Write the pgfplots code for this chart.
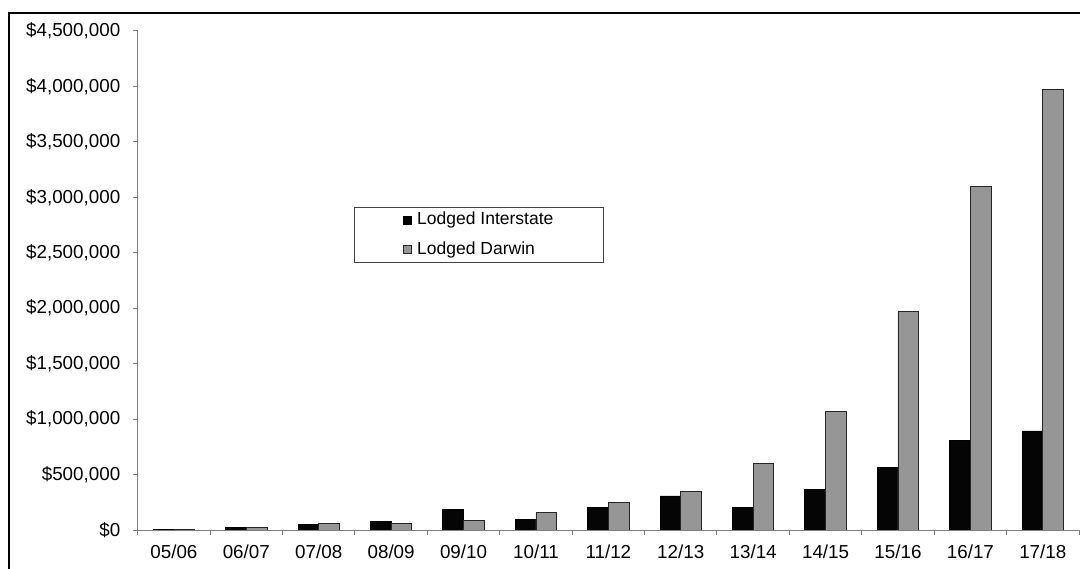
\documentclass[border=0pt]{standalone}
\usepackage{pgfplots}
\pgfplotsset{compat=1.18}
\usepackage{fontspec}
\setmainfont{Liberation Sans}
\definecolor{barblack}{HTML}{050505}
\definecolor{bargray}{HTML}{969696}
\definecolor{axisgray}{HTML}{808080}
\begin{document}
\fontsize{18.8bp}{22bp}\selectfont
\begin{tikzpicture}
\path[use as bounding box] (0bp,0bp) rectangle (1080bp,569bp);
\draw[line width=2.2bp, black] (9bp,0bp) -- (9bp,556bp) -- (1080bp,556bp);
\begin{axis}[
  at={(137.7bp,39bp)}, anchor=south west,
  width=941.3bp, height=499bp, scale only axis,
  font=\fontsize{18.8bp}{22bp}\selectfont,
  axis x line=bottom, axis y line=left,
  axis line style={-, axisgray, line width=1bp},
  xmin=0.5, xmax=13.5,
  ymin=0, ymax=4500000,
  ybar=0pt, bar width=20.7bp,
  xtick={1,...,13},
  xticklabels={05/06,06/07,07/08,08/09,09/10,10/11,11/12,12/13,13/14,14/15,15/16,16/17,17/18},
  xticklabel style={yshift=-3bp},
  yticklabel style={xshift=-6bp},
  major x tick style={draw=none},
  minor xtick={0.5,1.5,...,13.5},
  minor tick length=5bp,
  major tick length=5bp,
  tick align=outside,
  tick style={axisgray, line width=1bp},
  ytick={0,500000,1000000,1500000,2000000,2500000,3000000,3500000,4000000,4500000},
  yticklabels={{\$0},{\$500,000},{\$1,000,000},{\$1,500,000},{\$2,000,000},{\$2,500,000},{\$3,000,000},{\$3,500,000},{\$4,000,000},{\$4,500,000}},
  scaled y ticks=false,
  legend style={at={(0.3626,0.592)}, anchor=center, draw=black!75, line width=0.8bp,
    font=\fontsize{17.5bp}{20bp}\selectfont, inner xsep=48bp, inner ysep=3bp,
    /tikz/row sep=10bp, /tikz/column sep=4bp},
  legend cell align=left,
  legend image code/.code={\draw[#1, line width=0.6bp] (0bp,-4bp) rectangle (8bp,4bp);},
]
\addplot[fill=barblack, draw=black, line width=0.8bp] coordinates {
(1,5000) (2,22000) (3,51000) (4,81000) (5,187000) (6,93000) (7,201000)
(8,307000) (9,207000) (10,363000) (11,565000) (12,809000) (13,893000)};
\addplot[fill=bargray, draw=black!85, line width=0.8bp] coordinates {
(1,4000) (2,27000) (3,60000) (4,60000) (5,87000) (6,156000) (7,252000)
(8,345000) (9,598000) (10,1073000) (11,1970000) (12,3100000) (13,3970000)};
\legend{Lodged Interstate, Lodged Darwin}
\end{axis}
\end{tikzpicture}
\end{document}
